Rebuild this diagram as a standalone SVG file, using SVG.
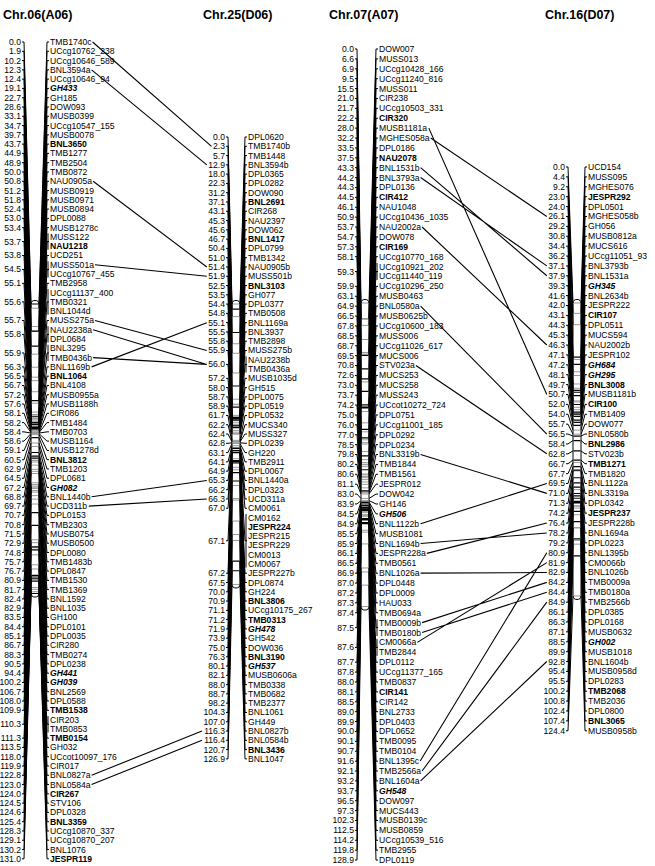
<svg xmlns="http://www.w3.org/2000/svg" width="655" height="866" viewBox="0 0 655 866">
<style>
text{font-family:"Liberation Sans",Arial,sans-serif;font-size:8.6px;fill:#000}
.t{font-size:12.5px;font-weight:bold}
.n{text-anchor:end}
.b{font-weight:bold}
.bi{font-weight:bold;font-style:italic}
.f{fill:none;stroke:#000;stroke-width:1;vector-effect:non-scaling-stroke}
.bar{fill:#fff;stroke:#000;stroke-width:1;vector-effect:non-scaling-stroke}
.mg{fill:none;stroke:#999;stroke-width:1;vector-effect:non-scaling-stroke}
.mb{fill:none;stroke:#000;stroke-width:1.2;vector-effect:non-scaling-stroke}
.c{fill:none;stroke:#000;stroke-width:1.1}
</style>
<rect width="655" height="866" fill="#fff"/>
<g id="chr06">
<text class="t" x="3" y="19">Chr.06(A06)</text>
<g transform="translate(0,304) scale(1,2.21)">
<rect class="bar" x="31" y="-1.6" width="8" height="134.2" rx="4" ry="1.81"/>
<path class="mg" d="M31.5 1.9H38.5M31.5 10.2H38.5M31.5 12.4H38.5M31.5 22.7H38.5M31.5 28.6H38.5M31.5 33.1H38.5M31.5 34.7H38.5M31.5 39.7H38.5M31.5 44.9H38.5M31.5 48.9H38.5M31.5 50H38.5M31.5 51.2H38.5M31.5 51.8H38.5M31.5 52.4H38.5M31.5 53H38.5M31.5 53.4H38.5M31.5 53.8H38.5M31.5 55.1H38.5M31.5 55.6H38.5M31.5 56.7H38.5M31.5 57.2H38.5M31.5 57.6H38.5M31.5 58.1H38.5M31.5 58.2H38.5M31.5 58.4H38.5M31.5 58.6H38.5M31.5 59.1H38.5M31.5 62.9H38.5M31.5 64.5H38.5M31.5 70.7H38.5M31.5 70.8H38.5M31.5 71.5H38.5M31.5 72.9H38.5M31.5 74.8H38.5M31.5 75.7H38.5M31.5 76.7H38.5M31.5 80.9H38.5M31.5 81.7H38.5M31.5 82.4H38.5M31.5 82.9H38.5M31.5 83.5H38.5M31.5 84.4H38.5M31.5 85.1H38.5M31.5 86.7H38.5M31.5 88.3H38.5M31.5 90.5H38.5M31.5 106.7H38.5M31.5 108H38.5M31.5 110.3H38.5M31.5 113.5H38.5M31.5 118H38.5M31.5 119.9H38.5M31.5 124.5H38.5M31.5 124.6H38.5M31.5 128.3H38.5M31.5 129.1H38.5M31.5 130.2H38.5"/>
<path class="mb" d="M31.5 0H38.5M31.5 12.3H38.5M31.5 19.1H38.5M31.5 43.7H38.5M31.5 50.8H38.5M31.5 53.7H38.5M31.5 54.5H38.5M31.5 55.7H38.5M31.5 55.8H38.5M31.5 55.9H38.5M31.5 56.3H38.5M31.5 56.5H38.5M31.5 60.5H38.5M31.5 67.2H38.5M31.5 68.8H38.5M31.5 69.7H38.5M31.5 94.4H38.5M31.5 100.2H38.5M31.5 109.9H38.5M31.5 111.3H38.5M31.5 122.8H38.5M31.5 123H38.5M31.5 124H38.5M31.5 125.4H38.5M31.5 131H38.5"/>
<path class="f" d="M22 -118.55h2L31 0M39 0L47 -118.55h2M22 -114.35h2L31 1.9M39 1.9L47 -114.35h2M22 -110.15h2L31 10.2M39 10.2L47 -110.15h2M22 -105.95h2L31 12.3M39 12.3L47 -105.95h2M22 -101.75h2L31 12.4M39 12.4L47 -101.75h2M22 -97.55h2L31 19.1M39 19.1L47 -97.55h2M22 -93.35h2L31 22.7M39 22.7L47 -93.35h2M22 -89.15h2L31 28.6M39 28.6L47 -89.15h2M22 -84.95h2L31 33.1M39 33.1L47 -84.95h2M22 -80.75h2L31 34.7M39 34.7L47 -80.75h2M22 -76.55h2L31 39.7M39 39.7L47 -76.55h2M22 -72.35h2L31 43.7M39 43.7L47 -72.35h2M22 -68.15h2L31 44.9M39 44.9L47 -68.15h2M22 -63.95h2L31 48.9M39 48.9L47 -63.95h2M22 -59.75h2L31 50M39 50L47 -59.75h2M22 -55.55h2L31 50.8M39 50.8L47 -55.55h2M22 -51.35h2L31 51.2M39 51.2L47 -51.35h2M22 -47.15h2L31 51.8M39 51.8L47 -47.15h2M22 -42.95h2L31 52.4M39 52.4L47 -42.95h2M22 -38.75h2L31 53M39 53L47 -38.75h2M22 -34.55h2L31 53.4M39 53.4L47 -34.55h2M22 -28.25h2L31 53.7M39 53.7L47 -28.25h2M22 -21.95h2L31 53.8M39 53.8L47 -21.95h2M22 -15.65h2L31 54.5M39 54.5L47 -15.65h2M22 -9.35h2L31 55.1M39 55.1L47 -9.35h2M22 -0.95h2L31 55.6M39 55.6L47 -0.95h2M22 7.45h2L31 55.7M39 55.7L47 7.45h2M22 13.75h2L31 55.8M39 55.8L47 13.75h2M22 22.15h2L31 55.9M39 55.9L47 22.15h2M22 28.45h2L31 56.3M39 56.3L47 28.45h2M22 32.65h2L31 56.5M39 56.5L47 32.65h2M22 36.85h2L31 56.7M39 56.7L47 36.85h2M22 41.05h2L31 57.2M39 57.2L47 41.05h2M22 45.25h2L31 57.6M39 57.6L47 45.25h2M22 49.45h2L31 58.1M39 58.1L47 49.45h2M22 53.65h2L31 58.2M39 58.2L47 53.65h2M22 57.85h2L31 58.4M39 58.4L47 57.85h2M22 62.05h2L31 58.6M39 58.6L47 62.05h2M22 66.25h2L31 59.1M39 59.1L47 66.25h2M22 70.45h2L31 60.5M39 60.5L47 70.45h2M22 74.65h2L31 62.9M39 62.9L47 74.65h2M22 78.85h2L31 64.5M39 64.5L47 78.85h2M22 83.05h2L31 67.2M39 67.2L47 83.05h2M22 87.25h2L31 68.8M39 68.8L47 87.25h2M22 91.45h2L31 69.7M39 69.7L47 91.45h2M22 95.65h2L31 70.7M39 70.7L47 95.65h2M22 99.85h2L31 70.8M39 70.8L47 99.85h2M22 104.05h2L31 71.5M39 71.5L47 104.05h2M22 108.25h2L31 72.9M39 72.9L47 108.25h2M22 112.45h2L31 74.8M39 74.8L47 112.45h2M22 116.65h2L31 75.7M39 75.7L47 116.65h2M22 120.85h2L31 76.7M39 76.7L47 120.85h2M22 125.05h2L31 80.9M39 80.9L47 125.05h2M22 129.25h2L31 81.7M39 81.7L47 129.25h2M22 133.45h2L31 82.4M39 82.4L47 133.45h2M22 137.65h2L31 82.9M39 82.9L47 137.65h2M22 141.85h2L31 83.5M39 83.5L47 141.85h2M22 146.05h2L31 84.4M39 84.4L47 146.05h2M22 150.25h2L31 85.1M39 85.1L47 150.25h2M22 154.45h2L31 86.7M39 86.7L47 154.45h2M22 158.65h2L31 88.3M39 88.3L47 158.65h2M22 162.85h2L31 90.5M39 90.5L47 162.85h2M22 167.05h2L31 94.4M39 94.4L47 167.05h2M22 171.25h2L31 100.2M39 100.2L47 171.25h2M22 175.45h2L31 106.7M39 106.7L47 175.45h2M22 179.65h2L31 108M39 108L47 179.65h2M22 183.85h2L31 109.9M39 109.9L47 183.85h2M22 190.15h2L31 110.3M39 110.3L47 190.15h2M22 196.45h2L31 111.3M39 111.3L47 196.45h2M22 200.65h2L31 113.5M39 113.5L47 200.65h2M22 204.85h2L31 118M39 118L47 204.85h2M22 209.05h2L31 119.9M39 119.9L47 209.05h2M22 213.25h2L31 122.8M39 122.8L47 213.25h2M22 217.45h2L31 123M39 123L47 217.45h2M22 221.65h2L31 124M39 124L47 221.65h2M22 225.85h2L31 124.5M39 124.5L47 225.85h2M22 230.05h2L31 124.6M39 124.6L47 230.05h2M22 234.25h2L31 125.4M39 125.4L47 234.25h2M22 238.45h2L31 128.3M39 128.3L47 238.45h2M22 242.65h2L31 129.1M39 129.1L47 242.65h2M22 246.85h2L31 130.2M39 130.2L47 246.85h2M22 251.05h2L31 131M39 131L47 251.05h2"/>
<path class="f" d="M48 -31.95V-24.55M48 -19.35V-11.95M48 -6.75V4.85M48 10.05V17.45M48 18.45V25.85M48 186.45V193.85"/>
</g>
<text class="n"><tspan x="21" y="45">0.0</tspan><tspan x="21" dy="9.282">1.9</tspan><tspan x="21" dy="9.282">10.2</tspan><tspan x="21" dy="9.282">12.3</tspan><tspan x="21" dy="9.282">12.4</tspan><tspan x="21" dy="9.282">19.1</tspan><tspan x="21" dy="9.282">22.7</tspan><tspan x="21" dy="9.282">28.6</tspan><tspan x="21" dy="9.282">33.1</tspan><tspan x="21" dy="9.282">34.7</tspan><tspan x="21" dy="9.282">39.7</tspan><tspan x="21" dy="9.282">43.7</tspan><tspan x="21" dy="9.282">44.9</tspan><tspan x="21" dy="9.282">48.9</tspan><tspan x="21" dy="9.282">50.0</tspan><tspan x="21" dy="9.282">50.8</tspan><tspan x="21" dy="9.282">51.2</tspan><tspan x="21" dy="9.282">51.8</tspan><tspan x="21" dy="9.282">52.4</tspan><tspan x="21" dy="9.282">53.0</tspan><tspan x="21" dy="9.282">53.4</tspan><tspan x="21" dy="13.923">53.7</tspan><tspan x="21" dy="13.923">53.8</tspan><tspan x="21" dy="13.923">54.5</tspan><tspan x="21" dy="13.923">55.1</tspan><tspan x="21" dy="18.564">55.6</tspan><tspan x="21" dy="18.564">55.7</tspan><tspan x="21" dy="13.923">55.8</tspan><tspan x="21" dy="18.564">55.9</tspan><tspan x="21" dy="13.923">56.3</tspan><tspan x="21" dy="9.282">56.5</tspan><tspan x="21" dy="9.282">56.7</tspan><tspan x="21" dy="9.282">57.2</tspan><tspan x="21" dy="9.282">57.6</tspan><tspan x="21" dy="9.282">58.1</tspan><tspan x="21" dy="9.282">58.2</tspan><tspan x="21" dy="9.282">58.4</tspan><tspan x="21" dy="9.282">58.6</tspan><tspan x="21" dy="9.282">59.1</tspan><tspan x="21" dy="9.282">60.5</tspan><tspan x="21" dy="9.282">62.9</tspan><tspan x="21" dy="9.282">64.5</tspan><tspan x="21" dy="9.282">67.2</tspan><tspan x="21" dy="9.282">68.8</tspan><tspan x="21" dy="9.282">69.7</tspan><tspan x="21" dy="9.282">70.7</tspan><tspan x="21" dy="9.282">70.8</tspan><tspan x="21" dy="9.282">71.5</tspan><tspan x="21" dy="9.282">72.9</tspan><tspan x="21" dy="9.282">74.8</tspan><tspan x="21" dy="9.282">75.7</tspan><tspan x="21" dy="9.282">76.7</tspan><tspan x="21" dy="9.282">80.9</tspan><tspan x="21" dy="9.282">81.7</tspan><tspan x="21" dy="9.282">82.4</tspan><tspan x="21" dy="9.282">82.9</tspan><tspan x="21" dy="9.282">83.5</tspan><tspan x="21" dy="9.282">84.4</tspan><tspan x="21" dy="9.282">85.1</tspan><tspan x="21" dy="9.282">86.7</tspan><tspan x="21" dy="9.282">88.3</tspan><tspan x="21" dy="9.282">90.5</tspan><tspan x="21" dy="9.282">94.4</tspan><tspan x="21" dy="9.282">100.2</tspan><tspan x="21" dy="9.282">106.7</tspan><tspan x="21" dy="9.282">108.0</tspan><tspan x="21" dy="9.282">109.9</tspan><tspan x="21" dy="13.923">110.3</tspan><tspan x="21" dy="13.923">111.3</tspan><tspan x="21" dy="9.282">113.5</tspan><tspan x="21" dy="9.282">118.0</tspan><tspan x="21" dy="9.282">119.9</tspan><tspan x="21" dy="9.282">122.8</tspan><tspan x="21" dy="9.282">123.0</tspan><tspan x="21" dy="9.282">124.0</tspan><tspan x="21" dy="9.282">124.5</tspan><tspan x="21" dy="9.282">124.6</tspan><tspan x="21" dy="9.282">125.4</tspan><tspan x="21" dy="9.282">128.3</tspan><tspan x="21" dy="9.282">129.1</tspan><tspan x="21" dy="9.282">130.2</tspan><tspan x="21" dy="9.282">131.0</tspan></text>
<text><tspan x="50" y="45">TMB1740c</tspan><tspan x="50" dy="9.282">UCcg10762_238</tspan><tspan x="50" dy="9.282">UCcg10646_589</tspan><tspan x="50" dy="9.282">BNL3594a</tspan><tspan x="50" dy="9.282">UCcg10646_94</tspan><tspan x="50" dy="9.282" class="bi">GH433</tspan><tspan x="50" dy="9.282">GH185</tspan><tspan x="50" dy="9.282">DOW093</tspan><tspan x="50" dy="9.282">MUSB0399</tspan><tspan x="50" dy="9.282">UCcg10547_155</tspan><tspan x="50" dy="9.282">MUSB0078</tspan><tspan x="50" dy="9.282" class="b">BNL3650</tspan><tspan x="50" dy="9.282">TMB1277</tspan><tspan x="50" dy="9.282">TMB2504</tspan><tspan x="50" dy="9.282">TMB0872</tspan><tspan x="50" dy="9.282">NAU0905a</tspan><tspan x="50" dy="9.282">MUSB0919</tspan><tspan x="50" dy="9.282">MUSB0971</tspan><tspan x="50" dy="9.282">MUSB0894</tspan><tspan x="50" dy="9.282">DPL0088</tspan><tspan x="50" dy="9.282">MUSB1278c</tspan><tspan x="50" dy="9.282">MUSS122</tspan><tspan x="50" dy="9.282" class="b">NAU1218</tspan><tspan x="50" dy="9.282">UCD251</tspan><tspan x="50" dy="9.282">MUSS501a</tspan><tspan x="50" dy="9.282">UCcg10767_455</tspan><tspan x="50" dy="9.282">TMB2958</tspan><tspan x="50" dy="9.282">UCcg11137_400</tspan><tspan x="50" dy="9.282">TMB0321</tspan><tspan x="50" dy="9.282">BNL1044d</tspan><tspan x="50" dy="9.282">MUSS275a</tspan><tspan x="50" dy="9.282">NAU2238a</tspan><tspan x="50" dy="9.282">DPL0684</tspan><tspan x="50" dy="9.282">BNL3295</tspan><tspan x="50" dy="9.282">TMB0436b</tspan><tspan x="50" dy="9.282">BNL1169b</tspan><tspan x="50" dy="9.282" class="b">BNL1064</tspan><tspan x="50" dy="9.282">BNL4108</tspan><tspan x="50" dy="9.282">MUSB0955a</tspan><tspan x="50" dy="9.282">MUSB1188h</tspan><tspan x="50" dy="9.282">CIR086</tspan><tspan x="50" dy="9.282">TMB1484</tspan><tspan x="50" dy="9.282">TMB0703</tspan><tspan x="50" dy="9.282">MUSB1164</tspan><tspan x="50" dy="9.282">MUSB1278d</tspan><tspan x="50" dy="9.282" class="b">BNL3812</tspan><tspan x="50" dy="9.282">TMB1203</tspan><tspan x="50" dy="9.282">DPL0681</tspan><tspan x="50" dy="9.282" class="bi">GH082</tspan><tspan x="50" dy="9.282">BNL1440b</tspan><tspan x="50" dy="9.282">UCD311b</tspan><tspan x="50" dy="9.282">DPL0153</tspan><tspan x="50" dy="9.282">TMB2303</tspan><tspan x="50" dy="9.282">MUSB0754</tspan><tspan x="50" dy="9.282">MUSB0500</tspan><tspan x="50" dy="9.282">DPL0080</tspan><tspan x="50" dy="9.282">TMB1483b</tspan><tspan x="50" dy="9.282">DPL0847</tspan><tspan x="50" dy="9.282">TMB1530</tspan><tspan x="50" dy="9.282">TMB1369</tspan><tspan x="50" dy="9.282">BNL1592</tspan><tspan x="50" dy="9.282">BNL1035</tspan><tspan x="50" dy="9.282">GH100</tspan><tspan x="50" dy="9.282">DPL0101</tspan><tspan x="50" dy="9.282">DPL0035</tspan><tspan x="50" dy="9.282">CIR280</tspan><tspan x="50" dy="9.282">TMB0274</tspan><tspan x="50" dy="9.282">DPL0238</tspan><tspan x="50" dy="9.282" class="bi">GH441</tspan><tspan x="50" dy="9.282" class="bi">GH039</tspan><tspan x="50" dy="9.282">BNL2569</tspan><tspan x="50" dy="9.282">DPL0588</tspan><tspan x="50" dy="9.282" class="b">TMB1538</tspan><tspan x="50" dy="9.282">CIR203</tspan><tspan x="50" dy="9.282">TMB0853</tspan><tspan x="50" dy="9.282" class="b">TMB0154</tspan><tspan x="50" dy="9.282">GH032</tspan><tspan x="50" dy="9.282">UCcot10097_176</tspan><tspan x="50" dy="9.282">CIR017</tspan><tspan x="50" dy="9.282">BNL0827a</tspan><tspan x="50" dy="9.282">BNL0584a</tspan><tspan x="50" dy="9.282" class="b">CIR267</tspan><tspan x="50" dy="9.282">STV106</tspan><tspan x="50" dy="9.282">DPL0328</tspan><tspan x="50" dy="9.282" class="b">BNL3359</tspan><tspan x="50" dy="9.282">UCcg10870_337</tspan><tspan x="50" dy="9.282">UCcg10870_207</tspan><tspan x="50" dy="9.282">BNL1076</tspan><tspan x="50" dy="9.282" class="b">JESPR119</tspan></text>
</g>
<g id="chr25">
<text class="t" x="203" y="19">Chr.25(D06)</text>
<g transform="translate(0,304) scale(1,2.21)">
<rect class="bar" x="232" y="-1.6" width="8" height="130.1" rx="4" ry="1.81"/>
<path class="mg" d="M232.5 0H239.5M232.5 5.7H239.5M232.5 18H239.5M232.5 22.3H239.5M232.5 31.2H239.5M232.5 43.1H239.5M232.5 45.3H239.5M232.5 45.6H239.5M232.5 50.4H239.5M232.5 51H239.5M232.5 53.5H239.5M232.5 54.4H239.5M232.5 54.8H239.5M232.5 55.5H239.5M232.5 55.8H239.5M232.5 57.2H239.5M232.5 58H239.5M232.5 58.7H239.5M232.5 58.9H239.5M232.5 61.7H239.5M232.5 62.2H239.5M232.5 62.4H239.5M232.5 62.8H239.5M232.5 63.1H239.5M232.5 64.1H239.5M232.5 64.9H239.5M232.5 66.2H239.5M232.5 67H239.5M232.5 67.2H239.5M232.5 67.5H239.5M232.5 70H239.5M232.5 71.1H239.5M232.5 73.9H239.5M232.5 75H239.5M232.5 82.1H239.5M232.5 88H239.5M232.5 88.7H239.5M232.5 98.2H239.5M232.5 104.3H239.5M232.5 107H239.5M232.5 126.9H239.5"/>
<path class="mb" d="M232.5 2.3H239.5M232.5 12.9H239.5M232.5 37.1H239.5M232.5 46.7H239.5M232.5 51.4H239.5M232.5 51.9H239.5M232.5 52.5H239.5M232.5 55.1H239.5M232.5 55.9H239.5M232.5 56H239.5M232.5 65.3H239.5M232.5 66.3H239.5M232.5 67.1H239.5M232.5 70.9H239.5M232.5 71.2H239.5M232.5 71.9H239.5M232.5 76.3H239.5M232.5 80.1H239.5M232.5 116.3H239.5M232.5 116.4H239.5M232.5 120.7H239.5"/>
<path class="f" d="M226 -75.57h2L232 0M240 0L245 -75.57h2M226 -71.37h2L232 2.3M240 2.3L245 -71.37h2M226 -67.17h2L232 5.7M240 5.7L245 -67.17h2M226 -62.97h2L232 12.9M240 12.9L245 -62.97h2M226 -58.77h2L232 18M240 18L245 -58.77h2M226 -54.57h2L232 22.3M240 22.3L245 -54.57h2M226 -50.37h2L232 31.2M240 31.2L245 -50.37h2M226 -46.17h2L232 37.1M240 37.1L245 -46.17h2M226 -41.97h2L232 43.1M240 43.1L245 -41.97h2M226 -37.77h2L232 45.3M240 45.3L245 -37.77h2M226 -33.57h2L232 45.6M240 45.6L245 -33.57h2M226 -29.37h2L232 46.7M240 46.7L245 -29.37h2M226 -25.17h2L232 50.4M240 50.4L245 -25.17h2M226 -20.97h2L232 51M240 51L245 -20.97h2M226 -16.77h2L232 51.4M240 51.4L245 -16.77h2M226 -12.57h2L232 51.9M240 51.9L245 -12.57h2M226 -8.37h2L232 52.5M240 52.5L245 -8.37h2M226 -4.17h2L232 53.5M240 53.5L245 -4.17h2M226 0.03h2L232 54.4M240 54.4L245 0.03h2M226 4.23h2L232 54.8M240 54.8L245 4.23h2M226 8.43h2L232 55.1M240 55.1L245 8.43h2M226 12.63h2L232 55.5M240 55.5L245 12.63h2M226 16.83h2L232 55.8M240 55.8L245 16.83h2M226 21.03h2L232 55.9M240 55.9L245 21.03h2M226 27.33h2L232 56M240 56L245 27.33h2M226 33.63h2L232 57.2M240 57.2L245 33.63h2M226 37.83h2L232 58M240 58L245 37.83h2M226 42.03h2L232 58.7M240 58.7L245 42.03h2M226 46.23h2L232 58.9M240 58.9L245 46.23h2M226 50.43h2L232 61.7M240 61.7L245 50.43h2M226 54.63h2L232 62.2M240 62.2L245 54.63h2M226 58.83h2L232 62.4M240 62.4L245 58.83h2M226 63.03h2L232 62.8M240 62.8L245 63.03h2M226 67.23h2L232 63.1M240 63.1L245 67.23h2M226 71.43h2L232 64.1M240 64.1L245 71.43h2M226 75.63h2L232 64.9M240 64.9L245 75.63h2M226 79.83h2L232 65.3M240 65.3L245 79.83h2M226 84.03h2L232 66.2M240 66.2L245 84.03h2M226 88.23h2L232 66.3M240 66.3L245 88.23h2M226 92.43h2L232 67M240 67L245 92.43h2M226 107.13h2L232 67.1M240 67.1L245 107.13h2M226 121.83h2L232 67.2M240 67.2L245 121.83h2M226 126.03h2L232 67.5M240 67.5L245 126.03h2M226 130.23h2L232 70M240 70L245 130.23h2M226 134.43h2L232 70.9M240 70.9L245 134.43h2M226 138.63h2L232 71.1M240 71.1L245 138.63h2M226 142.83h2L232 71.2M240 71.2L245 142.83h2M226 147.03h2L232 71.9M240 71.9L245 147.03h2M226 151.23h2L232 73.9M240 73.9L245 151.23h2M226 155.43h2L232 75M240 75L245 155.43h2M226 159.63h2L232 76.3M240 76.3L245 159.63h2M226 163.83h2L232 80.1M240 80.1L245 163.83h2M226 168.03h2L232 82.1M240 82.1L245 168.03h2M226 172.23h2L232 88M240 88L245 172.23h2M226 176.43h2L232 88.7M240 88.7L245 176.43h2M226 180.63h2L232 98.2M240 98.2L245 180.63h2M226 184.83h2L232 104.3M240 104.3L245 184.83h2M226 189.03h2L232 107M240 107L245 189.03h2M226 193.23h2L232 116.3M240 116.3L245 193.23h2M226 197.43h2L232 116.4M240 116.4L245 197.43h2M226 201.63h2L232 120.7M240 120.7L245 201.63h2M226 205.83h2L232 126.9M240 126.9L245 205.83h2"/>
<path class="f" d="M246 23.63V31.03M246 95.03V119.23"/>
</g>
<text class="n"><tspan x="225" y="140">0.0</tspan><tspan x="225" dy="9.282">2.3</tspan><tspan x="225" dy="9.282">5.7</tspan><tspan x="225" dy="9.282">12.9</tspan><tspan x="225" dy="9.282">18.0</tspan><tspan x="225" dy="9.282">22.3</tspan><tspan x="225" dy="9.282">31.2</tspan><tspan x="225" dy="9.282">37.1</tspan><tspan x="225" dy="9.282">43.1</tspan><tspan x="225" dy="9.282">45.3</tspan><tspan x="225" dy="9.282">45.6</tspan><tspan x="225" dy="9.282">46.7</tspan><tspan x="225" dy="9.282">50.4</tspan><tspan x="225" dy="9.282">51.0</tspan><tspan x="225" dy="9.282">51.4</tspan><tspan x="225" dy="9.282">51.9</tspan><tspan x="225" dy="9.282">52.5</tspan><tspan x="225" dy="9.282">53.5</tspan><tspan x="225" dy="9.282">54.4</tspan><tspan x="225" dy="9.282">54.8</tspan><tspan x="225" dy="9.282">55.1</tspan><tspan x="225" dy="9.282">55.5</tspan><tspan x="225" dy="9.282">55.8</tspan><tspan x="225" dy="9.282">55.9</tspan><tspan x="225" dy="13.923">56.0</tspan><tspan x="225" dy="13.923">57.2</tspan><tspan x="225" dy="9.282">58.0</tspan><tspan x="225" dy="9.282">58.7</tspan><tspan x="225" dy="9.282">58.9</tspan><tspan x="225" dy="9.282">61.7</tspan><tspan x="225" dy="9.282">62.2</tspan><tspan x="225" dy="9.282">62.4</tspan><tspan x="225" dy="9.282">62.8</tspan><tspan x="225" dy="9.282">63.1</tspan><tspan x="225" dy="9.282">64.1</tspan><tspan x="225" dy="9.282">64.9</tspan><tspan x="225" dy="9.282">65.3</tspan><tspan x="225" dy="9.282">66.2</tspan><tspan x="225" dy="9.282">66.3</tspan><tspan x="225" dy="9.282">67.0</tspan><tspan x="225" dy="32.487">67.1</tspan><tspan x="225" dy="32.487">67.2</tspan><tspan x="225" dy="9.282">67.5</tspan><tspan x="225" dy="9.282">70.0</tspan><tspan x="225" dy="9.282">70.9</tspan><tspan x="225" dy="9.282">71.1</tspan><tspan x="225" dy="9.282">71.2</tspan><tspan x="225" dy="9.282">71.9</tspan><tspan x="225" dy="9.282">73.9</tspan><tspan x="225" dy="9.282">75.0</tspan><tspan x="225" dy="9.282">76.3</tspan><tspan x="225" dy="9.282">80.1</tspan><tspan x="225" dy="9.282">82.1</tspan><tspan x="225" dy="9.282">88.0</tspan><tspan x="225" dy="9.282">88.7</tspan><tspan x="225" dy="9.282">98.2</tspan><tspan x="225" dy="9.282">104.3</tspan><tspan x="225" dy="9.282">107.0</tspan><tspan x="225" dy="9.282">116.3</tspan><tspan x="225" dy="9.282">116.4</tspan><tspan x="225" dy="9.282">120.7</tspan><tspan x="225" dy="9.282">126.9</tspan></text>
<text><tspan x="248" y="140">DPL0620</tspan><tspan x="248" dy="9.282">TMB1740b</tspan><tspan x="248" dy="9.282">TMB1448</tspan><tspan x="248" dy="9.282">BNL3594b</tspan><tspan x="248" dy="9.282">DPL0365</tspan><tspan x="248" dy="9.282">DPL0282</tspan><tspan x="248" dy="9.282">DOW090</tspan><tspan x="248" dy="9.282" class="b">BNL2691</tspan><tspan x="248" dy="9.282">CIR268</tspan><tspan x="248" dy="9.282">NAU2397</tspan><tspan x="248" dy="9.282">DOW062</tspan><tspan x="248" dy="9.282" class="b">BNL1417</tspan><tspan x="248" dy="9.282">DPL0799</tspan><tspan x="248" dy="9.282">TMB1342</tspan><tspan x="248" dy="9.282">NAU0905b</tspan><tspan x="248" dy="9.282">MUSS501b</tspan><tspan x="248" dy="9.282" class="b">BNL3103</tspan><tspan x="248" dy="9.282">GH077</tspan><tspan x="248" dy="9.282">DPL0377</tspan><tspan x="248" dy="9.282">TMB0508</tspan><tspan x="248" dy="9.282">BNL1169a</tspan><tspan x="248" dy="9.282">BNL3937</tspan><tspan x="248" dy="9.282">TMB2898</tspan><tspan x="248" dy="9.282">MUSS275b</tspan><tspan x="248" dy="9.282">NAU2238b</tspan><tspan x="248" dy="9.282">TMB0436a</tspan><tspan x="248" dy="9.282">MUSB1035d</tspan><tspan x="248" dy="9.282">GH515</tspan><tspan x="248" dy="9.282">DPL0075</tspan><tspan x="248" dy="9.282">DPL0519</tspan><tspan x="248" dy="9.282">DPL0532</tspan><tspan x="248" dy="9.282">MUCS340</tspan><tspan x="248" dy="9.282">MUSS327</tspan><tspan x="248" dy="9.282">DPL0239</tspan><tspan x="248" dy="9.282">GH220</tspan><tspan x="248" dy="9.282">TMB2911</tspan><tspan x="248" dy="9.282">DPL0067</tspan><tspan x="248" dy="9.282">BNL1440a</tspan><tspan x="248" dy="9.282">DPL0323</tspan><tspan x="248" dy="9.282">UCD311a</tspan><tspan x="248" dy="9.282">CM0061</tspan><tspan x="248" dy="9.282">CM0162</tspan><tspan x="248" dy="9.282" class="b">JESPR224</tspan><tspan x="248" dy="9.282">JESPR215</tspan><tspan x="248" dy="9.282">JESPR229</tspan><tspan x="248" dy="9.282">CM0013</tspan><tspan x="248" dy="9.282">CM0067</tspan><tspan x="248" dy="9.282">JESPR227b</tspan><tspan x="248" dy="9.282">DPL0874</tspan><tspan x="248" dy="9.282">GH224</tspan><tspan x="248" dy="9.282" class="b">BNL3806</tspan><tspan x="248" dy="9.282">UCcg10175_267</tspan><tspan x="248" dy="9.282" class="b">TMB0313</tspan><tspan x="248" dy="9.282" class="bi">GH478</tspan><tspan x="248" dy="9.282">GH542</tspan><tspan x="248" dy="9.282">DOW036</tspan><tspan x="248" dy="9.282" class="b">BNL3190</tspan><tspan x="248" dy="9.282" class="bi">GH537</tspan><tspan x="248" dy="9.282">MUSB0606a</tspan><tspan x="248" dy="9.282">TMB0338</tspan><tspan x="248" dy="9.282">TMB0682</tspan><tspan x="248" dy="9.282">TMB2377</tspan><tspan x="248" dy="9.282">BNL1061</tspan><tspan x="248" dy="9.282">GH449</tspan><tspan x="248" dy="9.282">BNL0827b</tspan><tspan x="248" dy="9.282">BNL0584b</tspan><tspan x="248" dy="9.282" class="b">BNL3436</tspan><tspan x="248" dy="9.282">BNL1047</tspan></text>
</g>
<g id="chr07">
<text class="t" x="329" y="19">Chr.07(A07)</text>
<g transform="translate(0,303) scale(1,2.355)">
<rect class="bar" x="361" y="-1.5" width="8" height="131.9" rx="4" ry="1.7"/>
<path class="mg" d="M361.5 0H368.5M361.5 6.6H368.5M361.5 6.9H368.5M361.5 9.5H368.5M361.5 15.5H368.5M361.5 21H368.5M361.5 21.7H368.5M361.5 33.5H368.5M361.5 44.3H368.5M361.5 46.1H368.5M361.5 50.9H368.5M361.5 54.7H368.5M361.5 58.1H368.5M361.5 59.3H368.5M361.5 59.9H368.5M361.5 63.1H368.5M361.5 66.5H368.5M361.5 67.8H368.5M361.5 68.5H368.5M361.5 68.7H368.5M361.5 69.5H368.5M361.5 72.6H368.5M361.5 73H368.5M361.5 73.7H368.5M361.5 74.2H368.5M361.5 75H368.5M361.5 76H368.5M361.5 77H368.5M361.5 78.5H368.5M361.5 80.2H368.5M361.5 80.6H368.5M361.5 81.1H368.5M361.5 83H368.5M361.5 83.9H368.5M361.5 85.5H368.5M361.5 86.5H368.5M361.5 87H368.5M361.5 87.2H368.5M361.5 87.3H368.5M361.5 87.4H368.5M361.5 87.7H368.5M361.5 87.8H368.5M361.5 88H368.5M361.5 88.5H368.5M361.5 89H368.5M361.5 89.9H368.5M361.5 90H368.5M361.5 90.1H368.5M361.5 90.7H368.5M361.5 96.5H368.5M361.5 97.3H368.5M361.5 102.3H368.5M361.5 112.5H368.5M361.5 114.2H368.5M361.5 119.8H368.5M361.5 128.9H368.5"/>
<path class="mb" d="M361.5 22.2H368.5M361.5 28H368.5M361.5 32.2H368.5M361.5 37.5H368.5M361.5 43.3H368.5M361.5 44.2H368.5M361.5 44.5H368.5M361.5 53.7H368.5M361.5 57.3H368.5M361.5 64.9H368.5M361.5 70.8H368.5M361.5 79.8H368.5M361.5 84.5H368.5M361.5 84.9H368.5M361.5 85.9H368.5M361.5 86.1H368.5M361.5 86.9H368.5M361.5 87.5H368.5M361.5 87.6H368.5M361.5 88.1H368.5M361.5 91.6H368.5M361.5 92.1H368.5M361.5 93.2H368.5M361.5 93.7H368.5"/>
<path class="f" d="M355 -107.86h2L361 0M369 0L376 -107.86h2M355 -103.66h2L361 6.6M369 6.6L376 -103.66h2M355 -99.46h2L361 6.9M369 6.9L376 -99.46h2M355 -95.26h2L361 9.5M369 9.5L376 -95.26h2M355 -91.06h2L361 15.5M369 15.5L376 -91.06h2M355 -86.86h2L361 21M369 21L376 -86.86h2M355 -82.66h2L361 21.7M369 21.7L376 -82.66h2M355 -78.46h2L361 22.2M369 22.2L376 -78.46h2M355 -74.26h2L361 28M369 28L376 -74.26h2M355 -70.06h2L361 32.2M369 32.2L376 -70.06h2M355 -65.86h2L361 33.5M369 33.5L376 -65.86h2M355 -61.66h2L361 37.5M369 37.5L376 -61.66h2M355 -57.46h2L361 43.3M369 43.3L376 -57.46h2M355 -53.26h2L361 44.2M369 44.2L376 -53.26h2M355 -49.06h2L361 44.3M369 44.3L376 -49.06h2M355 -44.86h2L361 44.5M369 44.5L376 -44.86h2M355 -40.66h2L361 46.1M369 46.1L376 -40.66h2M355 -36.46h2L361 50.9M369 50.9L376 -36.46h2M355 -32.26h2L361 53.7M369 53.7L376 -32.26h2M355 -28.06h2L361 54.7M369 54.7L376 -28.06h2M355 -23.86h2L361 57.3M369 57.3L376 -23.86h2M355 -19.66h2L361 58.1M369 58.1L376 -19.66h2M355 -13.36h2L361 59.3M369 59.3L376 -13.36h2M355 -7.06h2L361 59.9M369 59.9L376 -7.06h2M355 -2.86h2L361 63.1M369 63.1L376 -2.86h2M355 1.34h2L361 64.9M369 64.9L376 1.34h2M355 5.54h2L361 66.5M369 66.5L376 5.54h2M355 9.74h2L361 67.8M369 67.8L376 9.74h2M355 13.94h2L361 68.5M369 68.5L376 13.94h2M355 18.14h2L361 68.7M369 68.7L376 18.14h2M355 22.34h2L361 69.5M369 69.5L376 22.34h2M355 26.54h2L361 70.8M369 70.8L376 26.54h2M355 30.74h2L361 72.6M369 72.6L376 30.74h2M355 34.94h2L361 73M369 73L376 34.94h2M355 39.14h2L361 73.7M369 73.7L376 39.14h2M355 43.34h2L361 74.2M369 74.2L376 43.34h2M355 47.54h2L361 75M369 75L376 47.54h2M355 51.74h2L361 76M369 76L376 51.74h2M355 55.94h2L361 77M369 77L376 55.94h2M355 60.14h2L361 78.5M369 78.5L376 60.14h2M355 64.34h2L361 79.8M369 79.8L376 64.34h2M355 68.54h2L361 80.2M369 80.2L376 68.54h2M355 72.74h2L361 80.6M369 80.6L376 72.74h2M355 76.94h2L361 81.1M369 81.1L376 76.94h2M355 81.14h2L361 83M369 83L376 81.14h2M355 85.34h2L361 83.9M369 83.9L376 85.34h2M355 89.54h2L361 84.5M369 84.5L376 89.54h2M355 93.74h2L361 84.9M369 84.9L376 93.74h2M355 97.94h2L361 85.5M369 85.5L376 97.94h2M355 102.14h2L361 85.9M369 85.9L376 102.14h2M355 106.34h2L361 86.1M369 86.1L376 106.34h2M355 110.54h2L361 86.5M369 86.5L376 110.54h2M355 114.74h2L361 86.9M369 86.9L376 114.74h2M355 118.94h2L361 87M369 87L376 118.94h2M355 123.14h2L361 87.2M369 87.2L376 123.14h2M355 127.34h2L361 87.3M369 87.3L376 127.34h2M355 131.54h2L361 87.4M369 87.4L376 131.54h2M355 137.84h2L361 87.5M369 87.5L376 137.84h2M355 146.24h2L361 87.6M369 87.6L376 146.24h2M355 152.54h2L361 87.7M369 87.7L376 152.54h2M355 156.74h2L361 87.8M369 87.8L376 156.74h2M355 160.94h2L361 88M369 88L376 160.94h2M355 165.14h2L361 88.1M369 88.1L376 165.14h2M355 169.34h2L361 88.5M369 88.5L376 169.34h2M355 173.54h2L361 89M369 89L376 173.54h2M355 177.74h2L361 89.9M369 89.9L376 177.74h2M355 181.94h2L361 90M369 90L376 181.94h2M355 186.14h2L361 90.1M369 90.1L376 186.14h2M355 190.34h2L361 90.7M369 90.7L376 190.34h2M355 194.54h2L361 91.6M369 91.6L376 194.54h2M355 198.74h2L361 92.1M369 92.1L376 198.74h2M355 202.94h2L361 93.2M369 93.2L376 202.94h2M355 207.14h2L361 93.7M369 93.7L376 207.14h2M355 211.34h2L361 96.5M369 96.5L376 211.34h2M355 215.54h2L361 97.3M369 97.3L376 215.54h2M355 219.74h2L361 102.3M369 102.3L376 219.74h2M355 223.94h2L361 112.5M369 112.5L376 223.94h2M355 228.14h2L361 114.2M369 114.2L376 228.14h2M355 232.34h2L361 119.8M369 119.8L376 232.34h2M355 236.54h2L361 128.9M369 128.9L376 236.54h2"/>
<path class="f" d="M377 -16.96V-9.76M377 134.24V141.44M377 142.64V149.84"/>
</g>
<text class="n"><tspan x="354" y="52">0.0</tspan><tspan x="354" dy="9.89">6.6</tspan><tspan x="354" dy="9.89">6.9</tspan><tspan x="354" dy="9.89">9.5</tspan><tspan x="354" dy="9.89">15.5</tspan><tspan x="354" dy="9.89">21.0</tspan><tspan x="354" dy="9.89">21.7</tspan><tspan x="354" dy="9.89">22.2</tspan><tspan x="354" dy="9.89">28.0</tspan><tspan x="354" dy="9.89">32.2</tspan><tspan x="354" dy="9.89">33.5</tspan><tspan x="354" dy="9.89">37.5</tspan><tspan x="354" dy="9.89">43.3</tspan><tspan x="354" dy="9.89">44.2</tspan><tspan x="354" dy="9.89">44.3</tspan><tspan x="354" dy="9.89">44.5</tspan><tspan x="354" dy="9.89">46.1</tspan><tspan x="354" dy="9.89">50.9</tspan><tspan x="354" dy="9.89">53.7</tspan><tspan x="354" dy="9.89">54.7</tspan><tspan x="354" dy="9.89">57.3</tspan><tspan x="354" dy="9.89">58.1</tspan><tspan x="354" dy="14.835">59.3</tspan><tspan x="354" dy="14.835">59.9</tspan><tspan x="354" dy="9.89">63.1</tspan><tspan x="354" dy="9.89">64.9</tspan><tspan x="354" dy="9.89">66.5</tspan><tspan x="354" dy="9.89">67.8</tspan><tspan x="354" dy="9.89">68.5</tspan><tspan x="354" dy="9.89">68.7</tspan><tspan x="354" dy="9.89">69.5</tspan><tspan x="354" dy="9.89">70.8</tspan><tspan x="354" dy="9.89">72.6</tspan><tspan x="354" dy="9.89">73.0</tspan><tspan x="354" dy="9.89">73.7</tspan><tspan x="354" dy="9.89">74.2</tspan><tspan x="354" dy="9.89">75.0</tspan><tspan x="354" dy="9.89">76.0</tspan><tspan x="354" dy="9.89">77.0</tspan><tspan x="354" dy="9.89">78.5</tspan><tspan x="354" dy="9.89">79.8</tspan><tspan x="354" dy="9.89">80.2</tspan><tspan x="354" dy="9.89">80.6</tspan><tspan x="354" dy="9.89">81.1</tspan><tspan x="354" dy="9.89">83.0</tspan><tspan x="354" dy="9.89">83.9</tspan><tspan x="354" dy="9.89">84.5</tspan><tspan x="354" dy="9.89">84.9</tspan><tspan x="354" dy="9.89">85.5</tspan><tspan x="354" dy="9.89">85.9</tspan><tspan x="354" dy="9.89">86.1</tspan><tspan x="354" dy="9.89">86.5</tspan><tspan x="354" dy="9.89">86.9</tspan><tspan x="354" dy="9.89">87.0</tspan><tspan x="354" dy="9.89">87.2</tspan><tspan x="354" dy="9.89">87.3</tspan><tspan x="354" dy="9.89">87.4</tspan><tspan x="354" dy="14.835">87.5</tspan><tspan x="354" dy="19.78">87.6</tspan><tspan x="354" dy="14.835">87.7</tspan><tspan x="354" dy="9.89">87.8</tspan><tspan x="354" dy="9.89">88.0</tspan><tspan x="354" dy="9.89">88.1</tspan><tspan x="354" dy="9.89">88.5</tspan><tspan x="354" dy="9.89">89.0</tspan><tspan x="354" dy="9.89">89.9</tspan><tspan x="354" dy="9.89">90.0</tspan><tspan x="354" dy="9.89">90.1</tspan><tspan x="354" dy="9.89">90.7</tspan><tspan x="354" dy="9.89">91.6</tspan><tspan x="354" dy="9.89">92.1</tspan><tspan x="354" dy="9.89">93.2</tspan><tspan x="354" dy="9.89">93.7</tspan><tspan x="354" dy="9.89">96.5</tspan><tspan x="354" dy="9.89">97.3</tspan><tspan x="354" dy="9.89">102.3</tspan><tspan x="354" dy="9.89">112.5</tspan><tspan x="354" dy="9.89">114.2</tspan><tspan x="354" dy="9.89">119.8</tspan><tspan x="354" dy="9.89">128.9</tspan></text>
<text><tspan x="379" y="52">DOW007</tspan><tspan x="379" dy="9.89">MUSS013</tspan><tspan x="379" dy="9.89">UCcg10428_166</tspan><tspan x="379" dy="9.89">UCcg11240_816</tspan><tspan x="379" dy="9.89">MUSS011</tspan><tspan x="379" dy="9.89">CIR238</tspan><tspan x="379" dy="9.89">UCcg10503_331</tspan><tspan x="379" dy="9.89" class="b">CIR320</tspan><tspan x="379" dy="9.89">MUSB1181a</tspan><tspan x="379" dy="9.89">MGHES058a</tspan><tspan x="379" dy="9.89">DPL0186</tspan><tspan x="379" dy="9.89" class="b">NAU2078</tspan><tspan x="379" dy="9.89">BNL1531b</tspan><tspan x="379" dy="9.89">BNL3793a</tspan><tspan x="379" dy="9.89">DPL0136</tspan><tspan x="379" dy="9.89" class="b">CIR412</tspan><tspan x="379" dy="9.89">NAU1048</tspan><tspan x="379" dy="9.89">UCcg10436_1035</tspan><tspan x="379" dy="9.89">NAU2002a</tspan><tspan x="379" dy="9.89">DOW078</tspan><tspan x="379" dy="9.89" class="b">CIR169</tspan><tspan x="379" dy="9.89">UCcg10770_168</tspan><tspan x="379" dy="9.89">UCcg10921_202</tspan><tspan x="379" dy="9.89">UCcg11440_119</tspan><tspan x="379" dy="9.89">UCcg10296_250</tspan><tspan x="379" dy="9.89">MUSB0463</tspan><tspan x="379" dy="9.89">BNL0580a</tspan><tspan x="379" dy="9.89">MUSB0625b</tspan><tspan x="379" dy="9.89">UCcg10600_183</tspan><tspan x="379" dy="9.89">MUSS006</tspan><tspan x="379" dy="9.89">UCcg11026_617</tspan><tspan x="379" dy="9.89">MUCS006</tspan><tspan x="379" dy="9.89">STV023a</tspan><tspan x="379" dy="9.89">MUCS253</tspan><tspan x="379" dy="9.89">MUCS258</tspan><tspan x="379" dy="9.89">MUSS243</tspan><tspan x="379" dy="9.89">UCcot10272_724</tspan><tspan x="379" dy="9.89">DPL0751</tspan><tspan x="379" dy="9.89">UCcg11001_185</tspan><tspan x="379" dy="9.89">DPL0292</tspan><tspan x="379" dy="9.89">DPL0234</tspan><tspan x="379" dy="9.89">BNL3319b</tspan><tspan x="379" dy="9.89">TMB1844</tspan><tspan x="379" dy="9.89">TMB1561</tspan><tspan x="379" dy="9.89">JESPR012</tspan><tspan x="379" dy="9.89">DOW042</tspan><tspan x="379" dy="9.89">GH146</tspan><tspan x="379" dy="9.89" class="bi">GH506</tspan><tspan x="379" dy="9.89">BNL1122b</tspan><tspan x="379" dy="9.89">MUSB1081</tspan><tspan x="379" dy="9.89">BNL1694b</tspan><tspan x="379" dy="9.89">JESPR228a</tspan><tspan x="379" dy="9.89">TMB0561</tspan><tspan x="379" dy="9.89">BNL1026a</tspan><tspan x="379" dy="9.89">DPL0448</tspan><tspan x="379" dy="9.89">DPL0009</tspan><tspan x="379" dy="9.89">HAU033</tspan><tspan x="379" dy="9.89">TMB0694a</tspan><tspan x="379" dy="9.89">TMB0009b</tspan><tspan x="379" dy="9.89">TMB0180b</tspan><tspan x="379" dy="9.89">CM0066a</tspan><tspan x="379" dy="9.89">TMB2844</tspan><tspan x="379" dy="9.89">DPL0112</tspan><tspan x="379" dy="9.89">UCcg11377_165</tspan><tspan x="379" dy="9.89">TMB0837</tspan><tspan x="379" dy="9.89" class="b">CIR141</tspan><tspan x="379" dy="9.89">CIR142</tspan><tspan x="379" dy="9.89">BNL2733</tspan><tspan x="379" dy="9.89">DPL0403</tspan><tspan x="379" dy="9.89">DPL0652</tspan><tspan x="379" dy="9.89">TMB0095</tspan><tspan x="379" dy="9.89">TMB0104</tspan><tspan x="379" dy="9.89">BNL1395c</tspan><tspan x="379" dy="9.89">TMB2566a</tspan><tspan x="379" dy="9.89">BNL1604a</tspan><tspan x="379" dy="9.89" class="bi">GH548</tspan><tspan x="379" dy="9.89">DOW097</tspan><tspan x="379" dy="9.89">MUCS443</tspan><tspan x="379" dy="9.89">MUSB0139c</tspan><tspan x="379" dy="9.89">MUSB0859</tspan><tspan x="379" dy="9.89">UCcg10539_516</tspan><tspan x="379" dy="9.89">TMB2955</tspan><tspan x="379" dy="9.89">DPL0119</tspan></text>
</g>
<g id="chr16">
<text class="t" x="545" y="19">Chr.16(D07)</text>
<g transform="translate(0,303) scale(1,2.355)">
<rect class="bar" x="573" y="-1.5" width="8" height="127.4" rx="4" ry="1.7"/>
<path class="mg" d="M573.5 0H580.5M573.5 4.4H580.5M573.5 9.2H580.5M573.5 24H580.5M573.5 29.2H580.5M573.5 30.8H580.5M573.5 34.4H580.5M573.5 36.2H580.5M573.5 41.6H580.5M573.5 42H580.5M573.5 44.3H580.5M573.5 45.3H580.5M573.5 47.1H580.5M573.5 54H580.5M573.5 55.7H580.5M573.5 67.7H580.5M573.5 71.3H580.5M573.5 79.2H580.5M573.5 86.1H580.5M573.5 86.3H580.5M573.5 87.1H580.5M573.5 89.9H580.5M573.5 95.4H580.5M573.5 95.5H580.5M573.5 100.8H580.5M573.5 102.4H580.5M573.5 124.4H580.5"/>
<path class="mb" d="M573.5 23H580.5M573.5 26.1H580.5M573.5 37.1H580.5M573.5 37.9H580.5M573.5 39.3H580.5M573.5 43.1H580.5M573.5 46.3H580.5M573.5 47.2H580.5M573.5 48.1H580.5M573.5 49.7H580.5M573.5 50.7H580.5M573.5 52H580.5M573.5 56.5H580.5M573.5 58.4H580.5M573.5 62.8H580.5M573.5 66.7H580.5M573.5 69.5H580.5M573.5 71H580.5M573.5 74.2H580.5M573.5 76.4H580.5M573.5 78.2H580.5M573.5 80.9H580.5M573.5 81.9H580.5M573.5 82.9H580.5M573.5 84.2H580.5M573.5 84.4H580.5M573.5 84.9H580.5M573.5 88.5H580.5M573.5 92.8H580.5M573.5 100.2H580.5M573.5 107.4H580.5"/>
<path class="f" d="M566 -57.75h2L573 0M581 0L585 -57.75h2M566 -53.55h2L573 4.4M581 4.4L585 -53.55h2M566 -49.35h2L573 9.2M581 9.2L585 -49.35h2M566 -45.15h2L573 23M581 23L585 -45.15h2M566 -40.95h2L573 24M581 24L585 -40.95h2M566 -36.75h2L573 26.1M581 26.1L585 -36.75h2M566 -32.55h2L573 29.2M581 29.2L585 -32.55h2M566 -28.35h2L573 30.8M581 30.8L585 -28.35h2M566 -24.15h2L573 34.4M581 34.4L585 -24.15h2M566 -19.95h2L573 36.2M581 36.2L585 -19.95h2M566 -15.75h2L573 37.1M581 37.1L585 -15.75h2M566 -11.55h2L573 37.9M581 37.9L585 -11.55h2M566 -7.35h2L573 39.3M581 39.3L585 -7.35h2M566 -3.15h2L573 41.6M581 41.6L585 -3.15h2M566 1.05h2L573 42M581 42L585 1.05h2M566 5.25h2L573 43.1M581 43.1L585 5.25h2M566 9.45h2L573 44.3M581 44.3L585 9.45h2M566 13.65h2L573 45.3M581 45.3L585 13.65h2M566 17.85h2L573 46.3M581 46.3L585 17.85h2M566 22.05h2L573 47.1M581 47.1L585 22.05h2M566 26.25h2L573 47.2M581 47.2L585 26.25h2M566 30.45h2L573 48.1M581 48.1L585 30.45h2M566 34.65h2L573 49.7M581 49.7L585 34.65h2M566 38.85h2L573 50.7M581 50.7L585 38.85h2M566 43.05h2L573 52M581 52L585 43.05h2M566 47.25h2L573 54M581 54L585 47.25h2M566 51.45h2L573 55.7M581 55.7L585 51.45h2M566 55.65h2L573 56.5M581 56.5L585 55.65h2M566 59.85h2L573 58.4M581 58.4L585 59.85h2M566 64.05h2L573 62.8M581 62.8L585 64.05h2M566 68.25h2L573 66.7M581 66.7L585 68.25h2M566 72.45h2L573 67.7M581 67.7L585 72.45h2M566 76.65h2L573 69.5M581 69.5L585 76.65h2M566 80.85h2L573 71M581 71L585 80.85h2M566 85.05h2L573 71.3M581 71.3L585 85.05h2M566 89.25h2L573 74.2M581 74.2L585 89.25h2M566 93.45h2L573 76.4M581 76.4L585 93.45h2M566 97.65h2L573 78.2M581 78.2L585 97.65h2M566 101.85h2L573 79.2M581 79.2L585 101.85h2M566 106.05h2L573 80.9M581 80.9L585 106.05h2M566 110.25h2L573 81.9M581 81.9L585 110.25h2M566 114.45h2L573 82.9M581 82.9L585 114.45h2M566 118.65h2L573 84.2M581 84.2L585 118.65h2M566 122.85h2L573 84.4M581 84.4L585 122.85h2M566 127.05h2L573 84.9M581 84.9L585 127.05h2M566 131.25h2L573 86.1M581 86.1L585 131.25h2M566 135.45h2L573 86.3M581 86.3L585 135.45h2M566 139.65h2L573 87.1M581 87.1L585 139.65h2M566 143.85h2L573 88.5M581 88.5L585 143.85h2M566 148.05h2L573 89.9M581 89.9L585 148.05h2M566 152.25h2L573 92.8M581 92.8L585 152.25h2M566 156.45h2L573 95.4M581 95.4L585 156.45h2M566 160.65h2L573 95.5M581 95.5L585 160.65h2M566 164.85h2L573 100.2M581 100.2L585 164.85h2M566 169.05h2L573 100.8M581 100.8L585 169.05h2M566 173.25h2L573 102.4M581 102.4L585 173.25h2M566 177.45h2L573 107.4M581 107.4L585 177.45h2M566 181.65h2L573 124.4M581 124.4L585 181.65h2"/>
</g>
<text class="n"><tspan x="565" y="170">0.0</tspan><tspan x="565" dy="9.89">4.4</tspan><tspan x="565" dy="9.89">9.2</tspan><tspan x="565" dy="9.89">23.0</tspan><tspan x="565" dy="9.89">24.0</tspan><tspan x="565" dy="9.89">26.1</tspan><tspan x="565" dy="9.89">29.2</tspan><tspan x="565" dy="9.89">30.8</tspan><tspan x="565" dy="9.89">34.4</tspan><tspan x="565" dy="9.89">36.2</tspan><tspan x="565" dy="9.89">37.1</tspan><tspan x="565" dy="9.89">37.9</tspan><tspan x="565" dy="9.89">39.3</tspan><tspan x="565" dy="9.89">41.6</tspan><tspan x="565" dy="9.89">42.0</tspan><tspan x="565" dy="9.89">43.1</tspan><tspan x="565" dy="9.89">44.3</tspan><tspan x="565" dy="9.89">45.3</tspan><tspan x="565" dy="9.89">46.3</tspan><tspan x="565" dy="9.89">47.1</tspan><tspan x="565" dy="9.89">47.2</tspan><tspan x="565" dy="9.89">48.1</tspan><tspan x="565" dy="9.89">49.7</tspan><tspan x="565" dy="9.89">50.7</tspan><tspan x="565" dy="9.89">52.0</tspan><tspan x="565" dy="9.89">54.0</tspan><tspan x="565" dy="9.89">55.7</tspan><tspan x="565" dy="9.89">56.5</tspan><tspan x="565" dy="9.89">58.4</tspan><tspan x="565" dy="9.89">62.8</tspan><tspan x="565" dy="9.89">66.7</tspan><tspan x="565" dy="9.89">67.7</tspan><tspan x="565" dy="9.89">69.5</tspan><tspan x="565" dy="9.89">71.0</tspan><tspan x="565" dy="9.89">71.3</tspan><tspan x="565" dy="9.89">74.2</tspan><tspan x="565" dy="9.89">76.4</tspan><tspan x="565" dy="9.89">78.2</tspan><tspan x="565" dy="9.89">79.2</tspan><tspan x="565" dy="9.89">80.9</tspan><tspan x="565" dy="9.89">81.9</tspan><tspan x="565" dy="9.89">82.9</tspan><tspan x="565" dy="9.89">84.2</tspan><tspan x="565" dy="9.89">84.4</tspan><tspan x="565" dy="9.89">84.9</tspan><tspan x="565" dy="9.89">86.1</tspan><tspan x="565" dy="9.89">86.3</tspan><tspan x="565" dy="9.89">87.1</tspan><tspan x="565" dy="9.89">88.5</tspan><tspan x="565" dy="9.89">89.9</tspan><tspan x="565" dy="9.89">92.8</tspan><tspan x="565" dy="9.89">95.4</tspan><tspan x="565" dy="9.89">95.5</tspan><tspan x="565" dy="9.89">100.2</tspan><tspan x="565" dy="9.89">100.8</tspan><tspan x="565" dy="9.89">102.4</tspan><tspan x="565" dy="9.89">107.4</tspan><tspan x="565" dy="9.89">124.4</tspan></text>
<text><tspan x="588" y="170">UCD154</tspan><tspan x="588" dy="9.89">MUSS095</tspan><tspan x="588" dy="9.89">MGHES076</tspan><tspan x="588" dy="9.89" class="b">JESPR292</tspan><tspan x="588" dy="9.89">DPL0501</tspan><tspan x="588" dy="9.89">MGHES058b</tspan><tspan x="588" dy="9.89">GH056</tspan><tspan x="588" dy="9.89">MUSB0812a</tspan><tspan x="588" dy="9.89">MUCS616</tspan><tspan x="588" dy="9.89">UCcg11051_93</tspan><tspan x="588" dy="9.89">BNL3793b</tspan><tspan x="588" dy="9.89">BNL1531a</tspan><tspan x="588" dy="9.89" class="bi">GH345</tspan><tspan x="588" dy="9.89">BNL2634b</tspan><tspan x="588" dy="9.89">JESPR222</tspan><tspan x="588" dy="9.89" class="b">CIR107</tspan><tspan x="588" dy="9.89">DPL0511</tspan><tspan x="588" dy="9.89">MUCS594</tspan><tspan x="588" dy="9.89">NAU2002b</tspan><tspan x="588" dy="9.89">JESPR102</tspan><tspan x="588" dy="9.89" class="bi">GH684</tspan><tspan x="588" dy="9.89" class="bi">GH295</tspan><tspan x="588" dy="9.89" class="b">BNL3008</tspan><tspan x="588" dy="9.89">MUSB1181b</tspan><tspan x="588" dy="9.89" class="b">CIR100</tspan><tspan x="588" dy="9.89">TMB1409</tspan><tspan x="588" dy="9.89">DOW077</tspan><tspan x="588" dy="9.89">BNL0580b</tspan><tspan x="588" dy="9.89" class="b">BNL2986</tspan><tspan x="588" dy="9.89">STV023b</tspan><tspan x="588" dy="9.89" class="b">TMB1271</tspan><tspan x="588" dy="9.89">TMB1820</tspan><tspan x="588" dy="9.89">BNL1122a</tspan><tspan x="588" dy="9.89">BNL3319a</tspan><tspan x="588" dy="9.89">DPL0342</tspan><tspan x="588" dy="9.89" class="b">JESPR237</tspan><tspan x="588" dy="9.89">JESPR228b</tspan><tspan x="588" dy="9.89">BNL1694a</tspan><tspan x="588" dy="9.89">DPL0223</tspan><tspan x="588" dy="9.89">BNL1395b</tspan><tspan x="588" dy="9.89">CM0066b</tspan><tspan x="588" dy="9.89">BNL1026b</tspan><tspan x="588" dy="9.89">TMB0009a</tspan><tspan x="588" dy="9.89">TMB0180a</tspan><tspan x="588" dy="9.89">TMB2566b</tspan><tspan x="588" dy="9.89">DPL0385</tspan><tspan x="588" dy="9.89">DPL0168</tspan><tspan x="588" dy="9.89">MUSB0632</tspan><tspan x="588" dy="9.89" class="bi">GH002</tspan><tspan x="588" dy="9.89">MUSB1018</tspan><tspan x="588" dy="9.89">BNL1604b</tspan><tspan x="588" dy="9.89">MUSB0958d</tspan><tspan x="588" dy="9.89">DPL0283</tspan><tspan x="588" dy="9.89" class="b">TMB2068</tspan><tspan x="588" dy="9.89">TMB2036</tspan><tspan x="588" dy="9.89">DPL0800</tspan><tspan x="588" dy="9.89" class="b">BNL3065</tspan><tspan x="588" dy="9.89">MUSB0958b</tspan></text>
</g>
<g id="connectors">
<path class="c" d="M92.6 42L211.5 146.3M91.6 69.85L206.8 164.85M93.1 181.23L206.8 266.95M95 264.77L206.8 276.23M95 320.46L206.8 350.49M93.1 329.74L206.8 364.41M93.1 357.59L206.8 364.41M91.6 366.87L206.8 322.64M91.6 496.82L206.8 480.43M88.8 506.1L206.8 499M91.6 775.28L202 731.05M91.6 784.56L202 740.33"/>
<path class="c" d="M428.8 128.12L546.8 394.47M430.7 138.01L546.8 216.45M420.6 167.68L546.8 275.79M420.6 177.57L546.8 265.9M422.1 227.02L546.8 345.02M420.6 306.14L546.8 434.03M415.9 365.48L546.8 453.81M420.6 454.49L546.8 493.37M420.6 523.72L546.8 483.48M420.6 543.5L546.8 532.93M426.8 553.39L546.8 523.04M420.6 573.17L546.8 572.49M422.1 622.62L546.8 582.38M422.1 632.51L546.8 592.27M417.3 642.4L546.8 562.6M420.2 761.08L546.8 552.71M422.1 770.97L546.8 602.16M420.6 780.86L546.8 661.5"/>
</g>
</svg>
